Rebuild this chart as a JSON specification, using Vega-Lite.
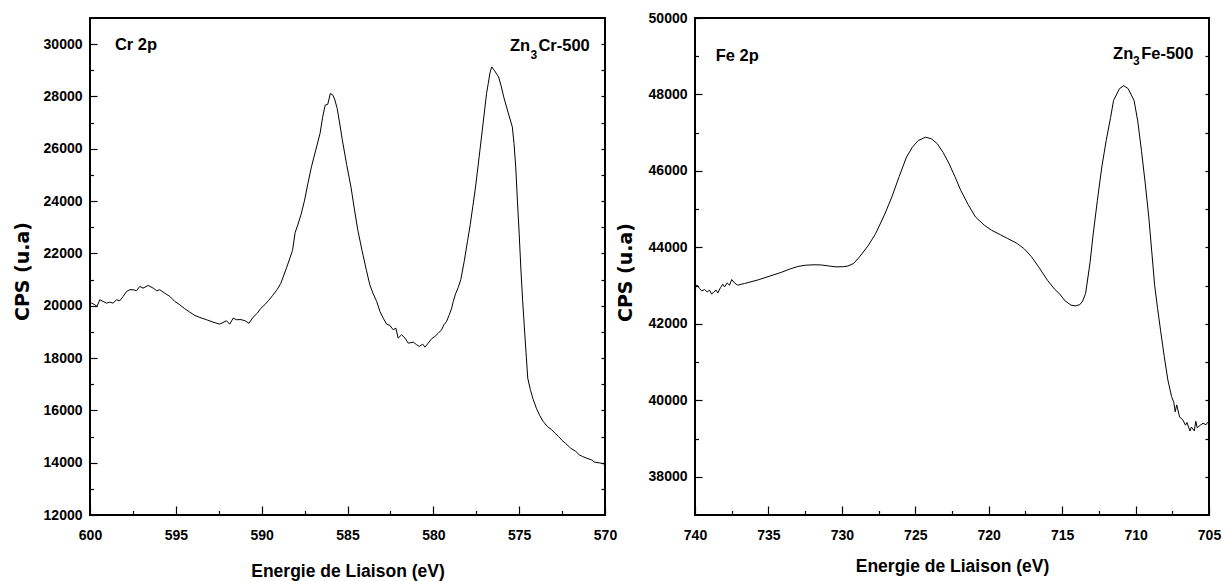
{
  "$schema": "https://vega.github.io/schema/vega-lite/v6.json",
  "autosize": {"type": "pad"},
  "padding": {"left": 12, "top": 10, "right": 5, "bottom": 5},
  "background": "white",
  "bounds": "flush",
  "spacing": 90,
  "config": {
    "view": {"stroke": "black", "strokeWidth": 2},
    "axis": {
      "domain": false, "grid": false, "tickColor": "black", "tickWidth": 1.2,
      "labelColor": "black", "labelFont": "Liberation Sans", "labelFontWeight": "bold", "labelFontSize": 14,
      "labelOverlap": false, "labelFlush": false, "labelBound": false,
      "titleColor": "black", "titleFont": "Liberation Sans", "titleFontWeight": "bold"
    },
    "text": {"font": "Liberation Sans", "fontWeight": "bold", "color": "black"}
  },
  "datasets": {
    "cr": [
      {"E":599.95,"I":20120},{"E":599.91,"I":20100},{"E":599.72,"I":20038},{"E":599.59,"I":19973},{"E":599.43,"I":20229},
      {"E":599.24,"I":20164},{"E":599.04,"I":20099},{"E":598.85,"I":20138},{"E":598.65,"I":20099},{"E":598.46,"I":20229},
      {"E":598.26,"I":20191},{"E":598.07,"I":20356},{"E":597.87,"I":20547},{"E":597.68,"I":20612},{"E":597.49,"I":20612},
      {"E":597.29,"I":20574},{"E":597.10,"I":20738},{"E":596.91,"I":20673},{"E":596.61,"I":20776},{"E":596.32,"I":20673},
      {"E":596.12,"I":20574},{"E":595.94,"I":20612},{"E":595.65,"I":20482},{"E":595.35,"I":20356},{"E":595.06,"I":20164},
      {"E":594.77,"I":20038},{"E":594.48,"I":19885},{"E":594.19,"I":19755},{"E":593.89,"I":19629},{"E":593.60,"I":19553},
      {"E":593.21,"I":19465},{"E":592.83,"I":19373},{"E":592.44,"I":19296},{"E":592.05,"I":19426},{"E":591.86,"I":19296},
      {"E":591.66,"I":19526},{"E":591.46,"I":19465},{"E":591.2,"I":19470},{"E":590.95,"I":19420},{"E":590.74,"I":19330},
      {"E":590.5,"I":19560},{"E":590.25,"I":19720},{"E":590.05,"I":19900},{"E":589.8,"I":20050},{"E":589.6,"I":20200},
      {"E":589.35,"I":20400},{"E":589.1,"I":20620},{"E":588.89,"I":20850},{"E":588.55,"I":21450},{"E":588.2,"I":22120},
      {"E":588.05,"I":22800},{"E":587.9,"I":23080},{"E":587.7,"I":23500},{"E":587.5,"I":24035},{"E":587.3,"I":24700},
      {"E":587.1,"I":25310},{"E":586.85,"I":25950},{"E":586.6,"I":26585},{"E":586.45,"I":27200},{"E":586.3,"I":27670},
      {"E":586.15,"I":27700},{"E":586.0,"I":28115},{"E":585.85,"I":28050},{"E":585.75,"I":27900},{"E":585.6,"I":27540},
      {"E":585.45,"I":26950},{"E":585.3,"I":26330},{"E":585.05,"I":25400},{"E":584.8,"I":24545},{"E":584.6,"I":23700},
      {"E":584.4,"I":22890},{"E":584.15,"I":22100},{"E":583.9,"I":21360},{"E":583.7,"I":20800},{"E":583.5,"I":20450},
      {"E":583.30,"I":20164},{"E":583.11,"I":19782},{"E":582.92,"I":19526},{"E":582.72,"I":19296},{"E":582.53,"I":19247},
      {"E":582.34,"I":19082},{"E":582.18,"I":19143},{"E":582.05,"I":18761},{"E":581.85,"I":18891},{"E":581.65,"I":18761},
      {"E":581.46,"I":18570},{"E":581.17,"I":18608},{"E":580.97,"I":18509},{"E":580.82,"I":18444},{"E":580.62,"I":18532},
      {"E":580.49,"I":18417},{"E":580.30,"I":18570},{"E":580.10,"I":18738},{"E":579.91,"I":18826},{"E":579.71,"I":18952},
      {"E":579.52,"I":19082},{"E":579.38,"I":19273},{"E":579.23,"I":19400},{"E":579.07,"I":19656},{"E":578.93,"I":19908},
      {"E":578.84,"I":20164},{"E":578.7,"I":20465},{"E":578.55,"I":20700},{"E":578.4,"I":21000},{"E":578.2,"I":21700},
      {"E":578.0,"I":22505},{"E":577.85,"I":23100},{"E":577.7,"I":23800},{"E":577.55,"I":24500},{"E":577.4,"I":25310},
      {"E":577.15,"I":26700},{"E":576.9,"I":28115},{"E":576.8,"I":28500},{"E":576.7,"I":28900},{"E":576.6,"I":29130},
      {"E":576.45,"I":29000},{"E":576.3,"I":28850},{"E":576.2,"I":28750},{"E":576.05,"I":28400},{"E":575.9,"I":27985},
      {"E":575.65,"I":27400},{"E":575.4,"I":26840},{"E":575.3,"I":26200},{"E":575.2,"I":25310},{"E":575.1,"I":24000},
      {"E":575.0,"I":22770},{"E":574.9,"I":21400},{"E":574.8,"I":20210},{"E":574.7,"I":19200},{"E":574.6,"I":18200},
      {"E":574.5,"I":17230},{"E":574.35,"I":16800},{"E":574.2,"I":16450},{"E":574.0,"I":16085},{"E":573.8,"I":15800},
      {"E":573.6,"I":15575},{"E":573.35,"I":15380},{"E":573.1,"I":15255},{"E":572.9,"I":15120},{"E":572.7,"I":15000},
      {"E":572.5,"I":14850},{"E":572.3,"I":14740},{"E":572.0,"I":14555},{"E":571.7,"I":14430},{"E":571.5,"I":14300},
      {"E":571.3,"I":14235},{"E":571.1,"I":14180},{"E":570.8,"I":14110},{"E":570.6,"I":14020},{"E":570.3,"I":13990},
      {"E":570.0,"I":13945}
    ],
    "fe": [
      {"E":739.98,"I":43000},{"E":739.85,"I":43010},{"E":739.69,"I":42924},{"E":739.54,"I":42862},{"E":739.35,"I":42898},
      {"E":739.17,"I":42836},{"E":739.01,"I":42880},{"E":738.86,"I":42776},{"E":738.72,"I":42836},{"E":738.56,"I":42880},
      {"E":738.45,"I":42809},{"E":738.26,"I":42950},{"E":738.11,"I":43036},{"E":737.99,"I":42966},{"E":737.81,"I":43070},
      {"E":737.65,"I":43010},{"E":737.50,"I":43159},{"E":737.31,"I":43070},{"E":737.09,"I":43010},{"E":736.86,"I":43036},
      {"E":736.63,"I":43055},{"E":735.7,"I":43150},{"E":734.9,"I":43250},{"E":734.1,"I":43350},{"E":733.5,"I":43440},
      {"E":733.0,"I":43500},{"E":732.5,"I":43533},{"E":731.9,"I":43545},{"E":731.4,"I":43540},{"E":730.9,"I":43515},
      {"E":730.4,"I":43490},{"E":729.9,"I":43495},{"E":729.6,"I":43510},{"E":729.2,"I":43580},{"E":728.8,"I":43750},
      {"E":728.2,"I":44050},{"E":727.7,"I":44360},{"E":727.1,"I":44850},{"E":726.6,"I":45315},{"E":726.1,"I":45850},
      {"E":725.6,"I":46360},{"E":725.2,"I":46620},{"E":724.8,"I":46795},{"E":724.3,"I":46882},{"E":723.9,"I":46840},
      {"E":723.5,"I":46710},{"E":723.1,"I":46480},{"E":722.7,"I":46190},{"E":722.3,"I":45850},{"E":721.9,"I":45490},
      {"E":721.4,"I":45120},{"E":720.9,"I":44795},{"E":720.3,"I":44580},{"E":719.8,"I":44447},{"E":719.2,"I":44330},
      {"E":718.7,"I":44230},{"E":718.1,"I":44110},{"E":717.6,"I":43970},{"E":717.1,"I":43760},{"E":716.6,"I":43490},
      {"E":716.0,"I":43140},{"E":715.5,"I":42900},{"E":715.2,"I":42795},{"E":714.8,"I":42600},{"E":714.4,"I":42490},
      {"E":714.1,"I":42470},{"E":713.8,"I":42500},{"E":713.6,"I":42600},{"E":713.4,"I":42800},{"E":713.1,"I":43600},
      {"E":712.9,"I":44300},{"E":712.6,"I":45230},{"E":712.3,"I":46100},{"E":712.0,"I":46795},{"E":711.7,"I":47400},
      {"E":711.5,"I":47840},{"E":711.1,"I":48150},{"E":710.8,"I":48230},{"E":710.5,"I":48150},{"E":710.1,"I":47840},
      {"E":709.85,"I":47300},{"E":709.6,"I":46535},{"E":709.35,"I":45700},{"E":709.1,"I":44795},{"E":708.9,"I":43900},
      {"E":708.7,"I":43000},{"E":708.5,"I":42400},{"E":708.3,"I":41835},{"E":708.05,"I":41150},{"E":707.8,"I":40530},
      {"E":707.55,"I":40100},{"E":707.4,"I":39950},{"E":707.3,"I":39700},{"E":707.2,"I":39880},{"E":707.0,"I":39560},
      {"E":706.8,"I":39500},{"E":706.6,"I":39350},{"E":706.5,"I":39420},{"E":706.3,"I":39200},{"E":706.2,"I":39300},
      {"E":706.0,"I":39200},{"E":705.9,"I":39450},{"E":705.8,"I":39280},{"E":705.6,"I":39350},{"E":705.4,"I":39400},
      {"E":705.2,"I":39360},{"E":705.1,"I":39420},{"E":705.0,"I":39380}
    ],
    "crlab": [
      {"E":598.55,"I":29962,"t":"Cr 2p","kind":"main"},
      {"E":575.54,"I":29943,"t":"Zn","kind":"main"},
      {"E":574.34,"I":29580,"t":"3","kind":"sub"},
      {"E":573.88,"I":29943,"t":"Cr-500","kind":"main"}
    ],
    "felab": [
      {"E":738.59,"I":49016,"t":"Fe 2p","kind":"main"},
      {"E":711.53,"I":49068,"t":"Zn","kind":"main"},
      {"E":710.17,"I":48885,"t":"3","kind":"sub"},
      {"E":709.62,"I":49068,"t":"Fe-500","kind":"main"}
    ]
  },
  "hconcat": [
    {
      "width": 515, "height": 497,
      "resolve": {"axis": {"x": "independent", "y": "independent"}},
      "layer": [
        {
          "data": {"name": "cr"},
          "mark": {"type": "line", "color": "black", "strokeWidth": 1},
          "encoding": {
            "x": {"field": "E", "type": "quantitative",
              "scale": {"domain": [570, 600], "reverse": true, "nice": false, "zero": false},
              "axis": {"orient": "bottom",
                "values": [600,597.5,595,592.5,590,587.5,585,582.5,580,577.5,575,572.5,570],
                "labelExpr": "datum.value % 5 === 0 ? format(datum.value, 'd') : ''",
                "tickSize": {"condition": {"test": "datum.value % 5 === 0", "value": -9}, "value": -4.5},
                "labelPadding": 22,
                "title": "Energie de Liaison (eV)", "titleFontSize": 17.5,
                "titleX": 257.5, "titleY": 56, "titleBaseline": "middle", "titleAlign": "center"}},
            "y": {"field": "I", "type": "quantitative",
              "scale": {"domain": [12000, 31000], "nice": false, "zero": false},
              "axis": {"orient": "left",
                "values": [12000,13000,14000,15000,16000,17000,18000,19000,20000,21000,22000,23000,24000,25000,26000,27000,28000,29000,30000,31000],
                "labelExpr": "datum.value % 2000 === 0 ? format(datum.value, 'd') : ''",
                "tickSize": {"condition": {"test": "datum.value % 2000 === 0", "value": -7}, "value": -3.5},
                "labelPadding": 15,
                "title": "CPS (u.a)", "titleFont": "DejaVu Sans", "titleFontSize": 19,
                "titleX": -68, "titleY": 253, "titleBaseline": "middle", "titleAlign": "center", "titleAngle": 270}}
          }
        },
        {
          "data": {"name": "crlab"},
          "transform": [{"filter": "datum.kind === 'main'"}],
          "mark": {"type": "text", "align": "left", "baseline": "middle", "fontSize": 16.5},
          "encoding": {
            "x": {"field": "E", "type": "quantitative", "axis": null},
            "y": {"field": "I", "type": "quantitative", "axis": null},
            "text": {"field": "t"}
          }
        },
        {
          "data": {"name": "crlab"},
          "transform": [{"filter": "datum.kind === 'sub'"}],
          "mark": {"type": "text", "align": "left", "baseline": "middle", "fontSize": 12},
          "encoding": {
            "x": {"field": "E", "type": "quantitative", "axis": null},
            "y": {"field": "I", "type": "quantitative",
              "axis": {"orient": "right", "values": [13000,14000,15000,16000,17000,18000,19000,20000,21000,22000,23000,24000,25000,26000,27000,28000,29000,30000],
                "labels": false, "title": null, "tickSize": -4}},
            "text": {"field": "t"}
          }
        }
      ]
    },
    {
      "width": 514, "height": 497,
      "resolve": {"axis": {"x": "independent", "y": "independent"}},
      "layer": [
        {
          "data": {"name": "fe"},
          "mark": {"type": "line", "color": "black", "strokeWidth": 1},
          "encoding": {
            "x": {"field": "E", "type": "quantitative",
              "scale": {"domain": [705, 740], "reverse": true, "nice": false, "zero": false},
              "axis": {"orient": "bottom",
                "values": [740,737.5,735,732.5,730,727.5,725,722.5,720,717.5,715,712.5,710,707.5,705],
                "labelExpr": "datum.value % 5 === 0 ? format(datum.value, 'd') : ''",
                "tickSize": {"condition": {"test": "datum.value % 5 === 0", "value": -9}, "value": -4.5},
                "labelPadding": 22,
                "title": "Energie de Liaison (eV)", "titleFontSize": 17.5,
                "titleX": 257, "titleY": 51, "titleBaseline": "middle", "titleAlign": "center"}},
            "y": {"field": "I", "type": "quantitative",
              "scale": {"domain": [37000, 50000], "nice": false, "zero": false},
              "axis": {"orient": "left",
                "values": [38000,39000,40000,41000,42000,43000,44000,45000,46000,47000,48000,49000,50000],
                "labelExpr": "datum.value % 2000 === 0 ? format(datum.value, 'd') : ''",
                "tickSize": {"condition": {"test": "datum.value % 2000 === 0", "value": -7}, "value": -3.5},
                "labelPadding": 15,
                "title": "CPS (u.a)", "titleFont": "DejaVu Sans", "titleFontSize": 19,
                "titleX": -70, "titleY": 254, "titleBaseline": "middle", "titleAlign": "center", "titleAngle": 270}}
          }
        },
        {
          "data": {"name": "felab"},
          "transform": [{"filter": "datum.kind === 'main'"}],
          "mark": {"type": "text", "align": "left", "baseline": "middle", "fontSize": 16.5},
          "encoding": {
            "x": {"field": "E", "type": "quantitative", "axis": null},
            "y": {"field": "I", "type": "quantitative", "axis": null},
            "text": {"field": "t"}
          }
        },
        {
          "data": {"name": "felab"},
          "transform": [{"filter": "datum.kind === 'sub'"}],
          "mark": {"type": "text", "align": "left", "baseline": "middle", "fontSize": 12},
          "encoding": {
            "x": {"field": "E", "type": "quantitative", "axis": null},
            "y": {"field": "I", "type": "quantitative",
              "axis": {"orient": "right", "values": [38000,39000,40000,41000,42000,43000,44000,45000,46000,47000,48000,49000],
                "labels": false, "title": null, "tickSize": -4}},
            "text": {"field": "t"}
          }
        }
      ]
    }
  ]
}
